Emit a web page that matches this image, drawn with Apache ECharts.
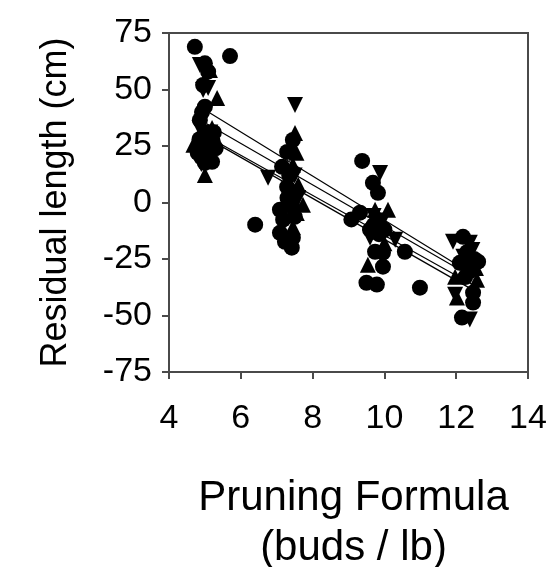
<!DOCTYPE html>
<html>
<head>
<meta charset="utf-8">
<script src="https://cdn.jsdelivr.net/npm/echarts@6/dist/echarts.min.js"></script>
<style>
  html, body { margin: 0; padding: 0; background: #fff; }
  #chart { width: 554px; height: 567px; }
</style>
</head>
<body>
<div id="chart"></div>
<script>
// Residual shoot length against pruning formula (buds / lb)
const circlePoints = [
  [4.72, 68.9], [5.70, 64.8], [5.0, 61.6], [5.09, 57.9], [4.95, 52], [5.0, 42.4],
  [4.92, 40], [4.86, 36.5], [5.0, 31], [5.15, 28], [4.95, 25], [5.05, 22],
  [4.9, 20], [5.22, 27], [5.0, 17.5], [5.1, 24], [4.8, 22], [5.3, 24], [5.2, 18],
  [4.85, 28], [5.25, 31],
  [7.45, 27.7], [7.29, 22.4], [7.15, 15.8], [7.29, 6.9], [6.4, -9.8], [7.09, -3.2],
  [7.42, -1], [7.18, -7.6], [7.5, -6.3], [7.09, -13.4], [7.23, -17.4], [7.45, -15.6],
  [7.42, -20], [7.35, 12], [7.3, 2],
  [9.38, 18.4], [9.68, 8.7], [9.82, 4.3], [9.08, -7.5], [9.32, -4.5],
  [9.74, -21.8], [9.96, -22.2], [10.57, -21.8], [9.96, -28.4], [9.5, -35.5],
  [9.79, -36.3], [10.99, -37.7], [9.7, -10], [9.85, -14], [9.6, -12], [9.8, -8], [10.0, -12],
  [12.19, -15.2], [12.61, -26.2], [12.1, -26.7], [12.47, -39.9], [12.47, -44.3],
  [12.16, -50.9], [12.3, -22], [12.4, -30], [12.35, -27], [12.25, -33], [12.5, -25]
];
const triangleUpPoints = [
  [5.14, 58.6], [5.34, 46.2], [5.0, 12.2], [4.75, 26], [5.2, 33], [5.1, 19], [4.9, 30],
  [4.68, 25.5],
  [7.51, 30.7], [7.45, 16.7], [7.6, 7.8], [7.73, -1], [7.56, -4.6], [7.45, -10.8],
  [7.55, 22], [7.4, 25],
  [10.1, -3.2], [9.74, -3.2], [9.54, -27.5], [9.9, -12], [10.0, -18],
  [12.58, -34.2], [11.97, -32.8], [12.02, -42], [12.55, -29], [12.3, -20]
];
const triangleDownPoints = [
  [4.86, 60.8], [4.95, 49.8], [5.09, 50.7], [5.0, 24.5], [4.9, 17], [5.15, 31], [4.85, 33],
  [7.51, 43.1], [6.76, 10.9], [7.5, 12], [7.35, -3], [7.6, 2],
  [9.88, 13.1], [9.6, -15.6], [10.3, -16.5], [9.7, -6], [9.95, -8],
  [11.91, -17.4], [12.38, -17.8], [11.97, -40.8], [12.38, -51.8], [12.2, -24], [12.45, -21]
];

// Fitted regression lines: x range and y at each end
const fitX = [5.05, 12.5];
const fitStartY = [40.5, 34.8, 29.3, 28.6];
const fitEndY = [-32.2, -33.4, -36.7, -39.0];

const xTicks = { min: 4, max: 14, interval: 2 };
const yTicks = { min: -75, max: 75, interval: 25 };

const FONT = 'Liberation Sans, Arial, sans-serif';
const AXIS_COLOR = '#4a4a4a';

const fitSeries = fitStartY.map((y0, i) => ({
  type: 'line',
  data: [[fitX[0], y0], [fitX[1], fitEndY[i]]],
  symbol: 'none',
  lineStyle: { color: '#000', width: 1.2 },
  z: 1,
  silent: true
}));

const markerSize = 16;
const markerStyle = { color: '#000', opacity: 1 };
const chart = echarts.init(document.getElementById('chart'), null, { renderer: 'canvas' });
chart.setOption({
  animation: false,
  backgroundColor: '#fff',
  grid: {
    left: 169, top: 33, right: 26, bottom: 195,
    outerBoundsMode: 'none',
    containLabel: false,
    show: true, borderColor: AXIS_COLOR, borderWidth: 2, backgroundColor: 'transparent'
  },
  xAxis: {
    type: 'value',
    min: xTicks.min, max: xTicks.max, interval: xTicks.interval,
    splitLine: { show: false },
    axisLine: { show: true, onZero: false, lineStyle: { color: AXIS_COLOR, width: 2 } },
    axisTick: { show: true, inside: false, length: 7, lineStyle: { color: AXIS_COLOR, width: 2 } },
    axisLabel: { color: '#000', fontSize: 34, fontFamily: FONT, margin: 30 },
    name: 'Pruning Formula\n(buds / lb)',
    nameLocation: 'middle',
    nameGap: 101,
    nameTextStyle: { color: '#000', fontSize: 42, fontFamily: FONT, lineHeight: 50, padding: [0, 0, 0, 10] }
  },
  yAxis: {
    type: 'value',
    min: yTicks.min, max: yTicks.max, interval: yTicks.interval,
    splitLine: { show: false },
    axisLine: { show: true, onZero: false, lineStyle: { color: AXIS_COLOR, width: 2 } },
    axisTick: { show: true, inside: false, length: 7, lineStyle: { color: AXIS_COLOR, width: 2 } },
    axisLabel: { color: '#000', fontSize: 34, fontFamily: FONT, margin: 17 },
    name: 'Residual length (cm)',
    nameLocation: 'middle',
    nameGap: 95,
    nameTextStyle: { color: '#000', fontSize: 36, fontFamily: FONT }
  },
  series: [
    ...fitSeries,
    {
      type: 'scatter', data: circlePoints, symbol: 'circle', symbolSize: markerSize,
      itemStyle: markerStyle, z: 3
    },
    {
      type: 'scatter', data: triangleUpPoints, symbol: 'triangle', symbolSize: markerSize,
      itemStyle: markerStyle, z: 3
    },
    {
      type: 'scatter', data: triangleDownPoints, symbol: 'triangle', symbolRotate: 180,
      symbolSize: markerSize, itemStyle: markerStyle, z: 3
    }
  ]
});
</script>
</body>
</html>
